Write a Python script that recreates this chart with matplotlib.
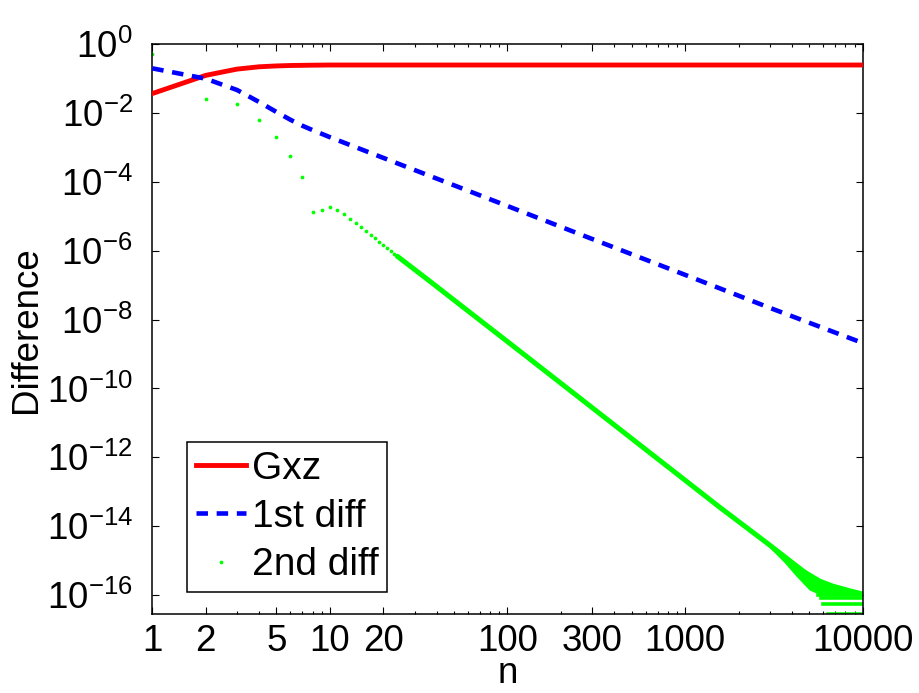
import matplotlib

matplotlib.use("Agg")
import matplotlib.pyplot as plt
from matplotlib.lines import Line2D
from matplotlib.ticker import FixedLocator, LogLocator, NullFormatter

# ---- data ----
red_n = [1, 2, 3, 4, 5, 6, 8, 10, 100, 1000, 10000]
red_val = [0.037, 0.125, 0.19, 0.222, 0.235, 0.242, 0.247, 0.25, 0.25, 0.25, 0.25]

blue_n = [1, 2, 3, 4, 5, 6, 7, 8, 9, 10, 20, 50, 100, 300, 1000, 3000, 10000]
blue_val = [0.2, 0.1, 0.047, 0.021, 0.0108, 6.4e-3, 4.3e-3, 3.2e-3, 2.5e-3, 2.0e-3,
            5.0e-4, 8.0e-5, 2.0e-5, 2.2e-6, 2.0e-7, 2.2e-8, 2.1e-9]

# separate green dots (small n)
green_n = list(range(1, 25))
green_val = [0.52, 0.026, 0.018, 6.3e-3, 1.96e-3, 5.6e-4, 1.35e-4, 1.36e-5, 1.52e-5, 1.82e-5,
             1.52e-5, 1.17e-5, 8.5e-6, 6.5e-6, 5.0e-6, 3.7e-6, 2.9e-6, 2.3e-6, 1.8e-6, 1.47e-6,
             1.2e-6, 9.8e-7, 8.2e-7, 6.9e-7]

# dense green region, where dots merge into a band
green_line_n = [24, 35, 134, 1571, 3000, 4500]
green_line_val = [6.9e-7, 1.55e-7, 7.1e-10, 3.5e-14, 2.8e-15, 5.5e-16]

# round-off cloud near machine precision
cloud_n = [3000, 3600, 4200, 5000, 5800, 6800, 8500, 10000]
cloud_hi = [3.3e-15, 1.5e-15, 8.5e-16, 4.7e-16, 3.0e-16, 2.2e-16, 1.6e-16, 1.3e-16]
cloud_lo = [2.3e-15, 9.0e-16, 3.6e-16, 1.4e-16, 1.0e-16, 1.0e-16, 1.0e-16, 1.0e-16]

# flat round-off levels: (start n, value)
floor_start = [5600, 5800, 6000, 6350]
floor_val = [1.02e-16, 8.1e-17, 5.4e-17, 2.8e-17]

xticks = [1, 2, 5, 10, 20, 100, 300, 1000, 10000]
yticks_exp = [0, -2, -4, -6, -8, -10, -12, -14, -16]

plt.rcParams["font.family"] = ["Liberation Sans", "DejaVu Sans"]
plt.rcParams["mathtext.fontset"] = "custom"
plt.rcParams["mathtext.rm"] = "Liberation Sans"
plt.rcParams["mathtext.it"] = "Liberation Sans:italic"
plt.rcParams["mathtext.sf"] = "Liberation Sans"

FS = 26.5
RED, BLUE, GREEN = (1, 0, 0), (0, 0, 1), (0, 1, 0)

fig = plt.figure(figsize=(9.19, 6.93), dpi=100)
ax = fig.add_axes([0.1657, 0.1136, 0.773, 0.8225])

ax.plot(red_n, red_val, color=RED, lw=3.5, zorder=3)
ax.plot(blue_n, blue_val, color=BLUE, lw=3.3, dashes=(2.5, 1.9), zorder=3)
ax.plot(green_n, green_val, ls="none", marker="o", ms=2.7, mew=0, color=GREEN, zorder=2)
ax.plot(green_line_n, green_line_val, color=GREEN, lw=3.6, solid_capstyle="round", zorder=2)
ax.fill_between(cloud_n, cloud_lo, cloud_hi, color=GREEN, lw=0, zorder=2)
for s, v in zip(floor_start, floor_val):
    ax.plot([s, 10000], [v, v], color=GREEN, lw=2.6, zorder=2)

ax.set_xscale("log")
ax.set_yscale("log")
ax.set_xlim(1, 10000)
ax.set_ylim(2.75e-17, 1)

ax.xaxis.set_major_locator(FixedLocator(xticks))
ax.set_xticklabels([str(t) for t in xticks])
ax.xaxis.set_minor_locator(LogLocator(base=10, subs=range(2, 10), numticks=20))
ax.xaxis.set_minor_formatter(NullFormatter())

ax.set_yticks([10.0 ** e for e in yticks_exp])
ax.set_yticklabels([r"$10^{%d}$" % e for e in yticks_exp])
ax.yaxis.set_minor_locator(FixedLocator([]))

ax.tick_params(which="both", direction="in", top=True, right=True, width=0.8)
ax.tick_params(which="major", length=5)
ax.tick_params(which="minor", length=2.5)
ax.tick_params(axis="x", labelsize=FS, pad=7)
ax.tick_params(axis="y", labelsize=FS, pad=14)
for sp in ax.spines.values():
    sp.set_linewidth(1.1)

ax.set_xlabel("n", fontsize=FS, labelpad=-2)
ax.set_ylabel("Difference", fontsize=FS, labelpad=2)

handles = [
    Line2D([0], [0], color=RED, lw=3.5),
    Line2D([0], [0], color=BLUE, lw=3.3, dashes=(2.5, 1.9)),
    Line2D([0], [0], ls="none", marker="o", ms=2.7, mew=0, color=GREEN),
]
leg = ax.legend(handles, ["Gxz", "1st diff", "2nd diff"], loc="upper left",
                bbox_to_anchor=(187 / 919, 1 - 442 / 693), bbox_transform=fig.transFigure,
                borderaxespad=0, fontsize=28, frameon=True, fancybox=False,
                framealpha=1, edgecolor="black", handlelength=1.3, handletextpad=0.15,
                labelspacing=0.32, borderpad=0.22, numpoints=1)
leg.get_frame().set_linewidth(1.1)

fig.savefig("out.png", dpi=100)
